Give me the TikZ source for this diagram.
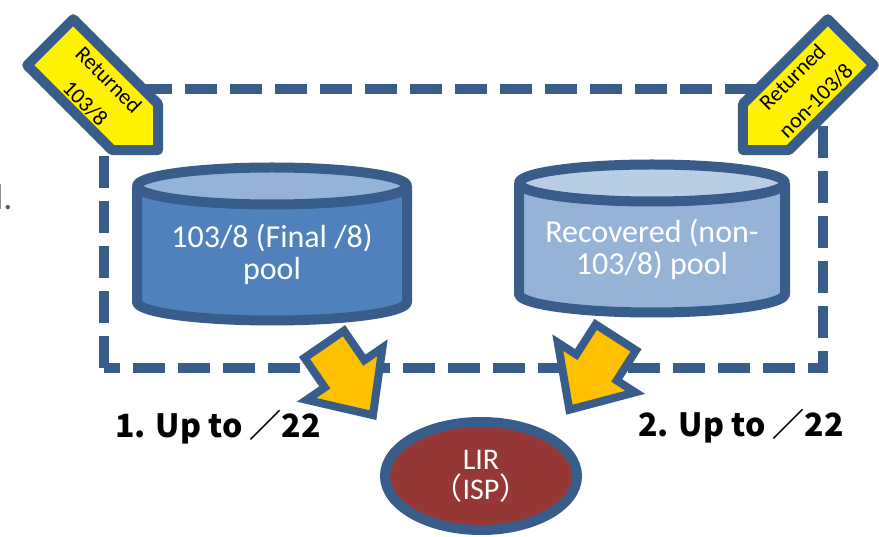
\documentclass[tikz,border=0pt]{standalone}
\usepackage{fontspec}
\setmainfont{Carlito}
\newfontfamily\jpfont{Noto Sans CJK JP}
\usetikzlibrary{
  shapes.geometric, % "ellipse"
  shapes.arrows,    % "single arrow"
  positioning,
}
\definecolor{lineblue}{HTML}{385D8A}
\definecolor{poolblue}{HTML}{4F81BD}
\definecolor{poollight}{HTML}{95B3D7}
\definecolor{poolpale}{HTML}{B9CDE5}
\definecolor{lirred}{HTML}{953735}
\definecolor{arrowgold}{HTML}{FFC000}
\def\mylw{10pt}
\def\myry{18.5}
% pool: x centre, x radius, top y, bottom y, body colour, top colour
\newcommand{\drawpool}[6]{
  \fill[#5] ({#1-#2},#3) -- ({#1-#2},#4)
    arc[start angle=180,end angle=360,x radius=#2,y radius=\myry]
    -- ({#1+#2},#3) -- cycle;
  \draw[pool line] ({#1-#2},#3) -- ({#1-#2},#4)
    arc[start angle=180,end angle=360,x radius=#2,y radius=\myry]
    -- ({#1+#2},#3);
  \filldraw[pool line,fill=#6] (#1,#3) ellipse[x radius=#2,y radius=\myry];
}
% returned block, drawn along the x axis of its scope
\newcommand{\drawtag}{
  \filldraw[tag line] (0,32.5) -- (120,32.5) -- (152.5,0) -- (120,-32.5)
    -- (0,-32.5) -- cycle;
}
\tikzset{
  pool line/.style={
    draw=lineblue,
    line width=\mylw,
    line join=round
  },
  pool text/.style={
    text=white,
    align=center,
    font=\fontsize{32}{32}\selectfont
  },
  tag line/.style={
    draw=lineblue,
    line width=\mylw,
    line join=round,
    fill=yellow
  },
  tag text/.style={
    align=center,
    inner sep=0pt,
    font=\fontsize{22}{33}\selectfont
  },
  give/.style={
    single arrow,
    draw=lineblue,
    line width=8pt,
    fill=arrowgold,
    minimum height=86pt,
    minimum width=84pt,
    inner sep=20pt,
    single arrow head extend=22pt,
    single arrow tip angle=85,
    anchor=tail
  },
  lir/.style={
    ellipse,
    draw=lineblue,
    line width=\mylw,
    fill=lirred,
    text=white,
    align=center,
    minimum width=192pt,
    minimum height=108pt,
    font=\fontsize{30}{30}\selectfont
  },
  up label/.style={
    font=\jpfont\bfseries\fontsize{32}{32}\selectfont
  }
}

\begin{document}
\begin{tikzpicture}[x=1pt,y=1pt]
\useasboundingbox (0,0) rectangle (879,536);

% cut-off text at the left edge
\node[anchor=base east,text=black!65,font=\fontsize{36}{36}\selectfont] (cut) at (16,326) {l.};

% dashed frame
\draw[lineblue,line width=\mylw,dash pattern=on 32pt off 13pt] (104,168) rectangle (823,447);

% pools
\drawpool{272}{135}{350}{234}{poolblue}{poollight}
\drawpool{652}{133}{353}{242}{poollight}{poolpale}
\node[pool text] (pool1) at (272,282) {103/8 (Final /8)\\pool};
\node[pool text] (pool2) at (652,287) {Recovered (non-\\103/8) pool};

% arrows to the LIR
\node[give,rotate=-55.5] (give1) at (322,195) {};
\node[give,rotate=-122.7] (give2) at (618,202) {};

% returned blocks
\begin{scope}[shift={(50.2,493.8)},rotate=-45]
  \drawtag
  \node[tag text,rotate=-45] (ret1) at (68,-2) {Returned\\103/8};
\end{scope}
\begin{scope}[shift={(850.8,493.8)},rotate=-135]
  \drawtag
  \node[tag text,rotate=45] (ret2) at (66,0) {Returned\\non-103/8};
\end{scope}

% LIR
\node[lir] (lir) at (481,60) {LIR\\{\jpfont （}ISP{\jpfont ）}};

\node[up label] (up1) at (218,109) {1. Up to ／22};
\node[up label] (up2) at (741,110) {2. Up to ／22};
\end{tikzpicture}
\end{document}
